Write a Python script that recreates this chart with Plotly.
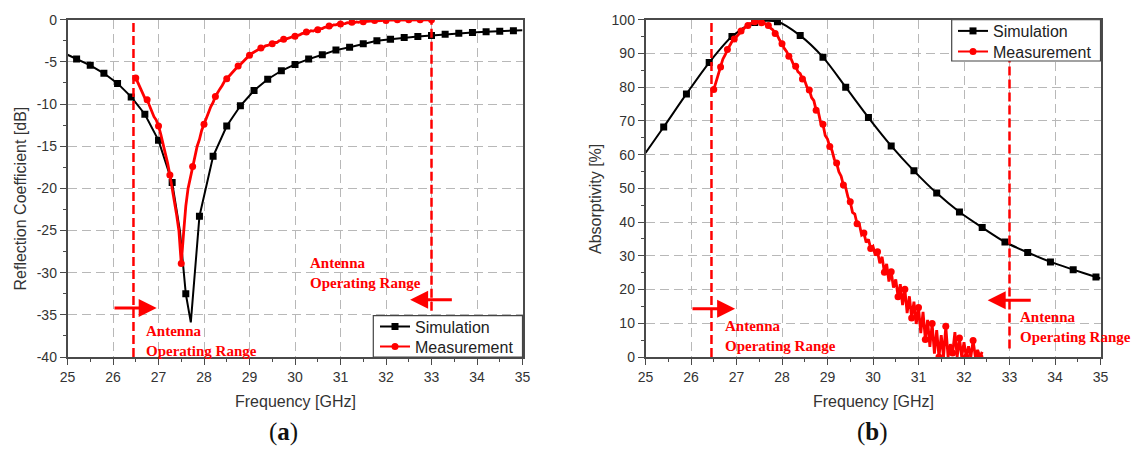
import plotly.graph_objects as go

# ---------------- (a) Reflection coefficient ----------------
sim_a_freq = [25.0, 25.2, 25.5, 25.8, 26.1, 26.4, 26.7, 27.0, 27.3, 27.47, 27.6, 27.71,
              27.9, 28.2, 28.5, 28.8, 29.1, 29.4, 29.7, 30.0, 30.3, 30.6, 30.9, 31.2,
              31.5, 31.8, 32.1, 32.4, 32.7, 33.0, 33.3, 33.6, 33.9, 34.2, 34.5, 34.8, 35.0]
sim_a_db = [-4.15, -4.65, -5.4, -6.35, -7.55, -9.15, -11.2, -14.3, -19.3, -25.0, -32.5, -35.9,
            -23.3, -16.2, -12.6, -10.2, -8.4, -7.05, -6.05, -5.3, -4.67, -4.15, -3.6, -3.25,
            -2.85, -2.5, -2.3, -2.1, -1.98, -1.86, -1.72, -1.6, -1.5, -1.42, -1.37, -1.3, -1.25]

# measured S11, sampled every 0.05 GHz from 26.50 GHz
meas_a_start = 26.5
meas_a_step = 0.05
meas_a_db = [
    -6.9, -7.5, -8.0, -8.7, -9.3, -9.5, -10.2, -10.8, -11.5, -11.9,
    -12.6, -13.6, -14.7, -15.9, -17.0, -18.4, -19.9, -21.5, -23.2, -25.1,
    -28.9, -25.4, -22.1, -20.0, -18.7, -17.4, -16.3, -15.0, -14.2, -13.1,
    -12.4, -11.6, -11.0, -10.3, -9.8, -9.1, -8.6, -8.2, -7.8, -7.3,
    -7.0, -6.7, -6.4, -6.0, -5.8, -5.5, -5.3, -5.0, -4.8, -4.5,
    -4.2, -4.0, -3.85, -3.6, -3.55, -3.35, -3.3, -3.1, -3.05, -2.95,
    -2.85, -2.7, -2.7, -2.5, -2.45, -2.3, -2.3, -2.15, -2.1, -2.0,
    -1.95, -1.85, -1.8, -1.65, -1.6, -1.45, -1.45, -1.3, -1.35, -1.2,
    -1.2, -1.05, -1.05, -0.9, -0.85, -0.75, -0.75, -0.6, -0.6, -0.5,
    -0.5, -0.45, -0.45, -0.35, -0.4, -0.3, -0.35, -0.25, -0.3, -0.2,
    -0.25, -0.15, -0.2, -0.15, -0.15, -0.1, -0.15, -0.1, -0.1, -0.05,
    -0.1, -0.05, -0.05, -0.05, -0.05, 0.0, -0.05, 0.0, 0.0, 0.0,
    0.0, 0.0, 0.0, 0.0, 0.0, 0.0, 0.0, 0.0, 0.0, 0.0, 0.0,
]

# ---------------- (b) Absorptivity ----------------
sim_b_freq = [25.0, 25.4, 25.9, 26.4, 26.9, 27.4, 27.9, 28.4, 28.9, 29.4, 29.9, 30.4,
              30.9, 31.4, 31.9, 32.4, 32.9, 33.4, 33.9, 34.4, 34.9, 35.0]
sim_b_pct = [60.5, 68.2, 78.0, 87.3, 95.0, 99.2, 99.4, 95.3, 88.9, 80.0, 71.0, 62.6,
             55.2, 48.6, 43.0, 38.4, 34.1, 31.0, 28.2, 25.9, 23.7, 23.3]

# measured absorptivity, sampled every 0.05 GHz from 26.50 GHz
meas_b_start = 26.5
meas_b_step = 0.05
meas_b_pct = [
    79.3, 81.6, 84.0, 86.0, 88.3, 89.6, 91.2, 92.3, 93.5, 94.3,
    95.1, 95.8, 96.7, 97.2, 97.9, 98.3, 98.9, 99.0, 99.4, 99.3,
    99.5, 99.1, 99.2, 98.6, 98.3, 97.5, 97.0, 95.9, 95.3, 93.9,
    92.9, 91.5, 90.6, 89.2, 88.4, 86.8, 86.2, 84.6, 84.0, 82.4,
    81.9, 80.0, 79.2, 76.9, 76.0, 73.2, 72.6, 69.5, 69.0, 65.7,
    64.6, 62.4, 61.2, 58.6, 57.5, 54.9, 53.6, 51.0, 50.2, 47.4,
    46.0, 42.9, 42.4, 39.5, 39.4, 36.2, 36.8, 34.0, 34.9, 32.2,
    32.8, 30.1, 31.2, 27.8, 29.7, 25.1, 27.6, 22.4, 25.3, 20.6,
    23.0, 17.9, 21.6, 15.4, 20.1, 13.0, 18.0, 11.6, 16.4, 9.8,
    14.7, 7.1, 13.4, 5.2, 11.0, 3.0, 9.9, 1.0, 8.0, 0.0,
    6.5, 0.0, 9.1, 0.0, 3.8, 1.2, 7.4, 0.0, 5.6, 0.0,
    4.4, 0.0, 3.2, 0.0, 4.9, 0.0, 2.1, 0.0, 1.5,
]

x_ticks = list(range(25, 36))
y_ticks_a = list(range(-40, 1, 5))
y_ticks_b = list(range(0, 101, 10))
band_edges = [26.45, 33.0]

meas_a_freq = [round(meas_a_start + meas_a_step * i, 3) for i in range(len(meas_a_db))]
meas_b_freq = [round(meas_b_start + meas_b_step * i, 3) for i in range(len(meas_b_pct))]

RED = "#ff0000"
BLACK = "#000000"
AX = "#4a4a4a"
TXT = "#333333"
SANS = "Liberation Sans, Arial, sans-serif"
SERIF = "Liberation Serif, Times New Roman, serif"

W, H = 1136, 450


def px_x(p):
    return p / W


def px_y(p):
    return 1 - p / H


def on_grid(f, start, step):
    k = (f - start) / step
    return abs(k - round(k)) < 1e-6 and k >= -1e-6


fig = go.Figure()

# --- panel (a) traces
fig.add_trace(go.Scatter(x=sim_a_freq, y=sim_a_db, mode="lines",
                         line=dict(color=BLACK, width=2), showlegend=False,
                         xaxis="x", yaxis="y"))
sa = [(f, v) for f, v in zip(sim_a_freq, sim_a_db) if on_grid(f, 25.2, 0.3)]
fig.add_trace(go.Scatter(x=[p[0] for p in sa], y=[p[1] for p in sa], mode="markers",
                         marker=dict(symbol="square", size=7, color=BLACK),
                         showlegend=False, xaxis="x", yaxis="y"))
fig.add_trace(go.Scatter(x=meas_a_freq, y=meas_a_db, mode="lines",
                         line=dict(color=RED, width=2.8), showlegend=False,
                         xaxis="x", yaxis="y"))
fig.add_trace(go.Scatter(x=meas_a_freq[::5], y=meas_a_db[::5], mode="markers",
                         marker=dict(symbol="circle", size=7, color=RED),
                         showlegend=False, xaxis="x", yaxis="y"))

# --- panel (b) traces
fig.add_trace(go.Scatter(x=sim_b_freq, y=sim_b_pct, mode="lines",
                         line=dict(color=BLACK, width=2, shape="spline", smoothing=0.8),
                         showlegend=False, xaxis="x2", yaxis="y2"))
fig.add_trace(go.Scatter(x=sim_b_freq[1:-1], y=sim_b_pct[1:-1], mode="markers",
                         marker=dict(symbol="square", size=7, color=BLACK),
                         showlegend=False, xaxis="x2", yaxis="y2"))
fig.add_trace(go.Scatter(x=meas_b_freq, y=meas_b_pct, mode="lines",
                         line=dict(color=RED, width=2.8), showlegend=False,
                         xaxis="x2", yaxis="y2"))
fig.add_trace(go.Scatter(x=meas_b_freq[::3], y=meas_b_pct[::3], mode="markers",
                         marker=dict(symbol="circle", size=7, color=RED),
                         showlegend=False, xaxis="x2", yaxis="y2"))

# --- legend entries: one single-item legend per row, inside a drawn frame
legend_rows = [("legend", "Simulation", BLACK, "square", 380, 326.7, "x", "y"),
               ("legend2", "Measurement", RED, "circle", 380, 346.7, "x", "y"),
               ("legend3", "Simulation", BLACK, "square", 958, 31.0, "x2", "y2"),
               ("legend4", "Measurement", RED, "circle", 958, 51.7, "x2", "y2")]
legend_layout = {}
for lg, name, col, sym, lx, ly, xa, ya in legend_rows:
    fig.add_trace(go.Scatter(x=[None], y=[None], mode="lines+markers", name=name,
                             line=dict(color=col, width=2),
                             marker=dict(symbol=sym, size=7, color=col),
                             legend=lg, xaxis=xa, yaxis=ya))
    legend_layout[lg] = dict(x=px_x(lx - 5), y=px_y(ly), xanchor="left", yanchor="middle",
                             bgcolor="rgba(0,0,0,0)", borderwidth=0,
                             font=dict(family=SANS, size=16, color="#222"))


def xaxis_style(domain, anchor):
    return dict(domain=domain, anchor=anchor, range=[25, 35], tickvals=x_ticks,
                automargin=False,
                ticks="outside", ticklen=6, tickwidth=1.3, tickcolor=AX,
                showline=True, linecolor=AX, linewidth=1.5, mirror=True,
                showgrid=True, gridcolor="#b8b8b8", gridwidth=1.2, griddash="9px,5px",
                zeroline=False, tickfont=dict(family=SANS, size=14, color=TXT),
                minor=dict(dtick=0.5, tick0=25, ticks="outside", ticklen=3,
                           tickcolor=AX, tickwidth=1.2, showgrid=False))


def yaxis_style(domain, anchor, rng, ticks, dt):
    return dict(domain=domain, anchor=anchor, range=rng,
                tickvals=ticks, ticktext=[str(t) for t in ticks],
                automargin=False,
                ticks="outside", ticklen=6, tickwidth=1.3, tickcolor=AX,
                showline=True, linecolor=AX, linewidth=1.5, mirror=True,
                showgrid=True, gridcolor="#b8b8b8", gridwidth=1.2, griddash="9px,5px",
                zeroline=False, tickfont=dict(family=SANS, size=14, color=TXT),
                minor=dict(dtick=dt / 2, tick0=0, ticks="outside", ticklen=3,
                           tickcolor=AX, tickwidth=1.2, showgrid=False))


ydom = [px_y(357), px_y(19.75)]
fig.update_layout(
    width=W, height=H,
    margin=dict(l=0, r=0, t=0, b=0, autoexpand=False),
    paper_bgcolor="white", plot_bgcolor="white",
    xaxis=xaxis_style([px_x(67.5), px_x(522.5)], "y"),
    yaxis=yaxis_style(ydom, "x", [-40, 0], y_ticks_a, 5),
    xaxis2=xaxis_style([px_x(645.5), px_x(1100.5)], "y2"),
    yaxis2=yaxis_style(ydom, "x2", [0, 100], y_ticks_b, 10),
    **legend_layout,
)

# operating-range markers, then the legend frames on top of them
shapes = []
for xa, ya, spans in [("x", "y", [(-40, 0), (-34.5, 0)]), ("x2", "y2", [(0, 100), (2.5, 100)])]:
    for f, (y0, y1) in zip(band_edges, spans):
        shapes.append(dict(type="line", xref=xa, yref=ya, x0=f, x1=f, y0=y0, y1=y1,
                           line=dict(color=RED, width=2.5, dash="9px,4px")))
for x0, x1, y0, y1 in [(373.3, 522.5, 315.7, 357.0), (951.7, 1100.5, 19.75, 61.0)]:
    shapes.append(dict(type="rect", xref="paper", yref="paper",
                       x0=px_x(x0), x1=px_x(x1), y0=px_y(y1), y1=px_y(y0),
                       fillcolor="white", line=dict(color="#444", width=1.2)))
fig.update_layout(shapes=shapes)

ann = []
label = "Antenna<br>Operating Range"
lab_font = dict(family=SERIF, size=15, color=RED)
# arrows (tail -> head)
for xa, ya, tail, head in [
    ("x", "y", (26.0, -34.2), (26.96, -34.2)),
    ("x", "y", (33.48, -33.2), (32.53, -33.2)),
    ("x2", "y2", (26.0, 14.3), (26.97, 14.3)),
    ("x2", "y2", (33.5, 16.8), (32.52, 16.8)),
]:
    ann.append(dict(xref=xa, yref=ya, axref=xa, ayref=ya, x=head[0], y=head[1],
                    ax=tail[0], ay=tail[1], text="", showarrow=True,
                    arrowhead=2, arrowsize=1.2, arrowwidth=3, arrowcolor=RED))
for xa, ya, x, y in [("x", "y", 26.68, -38.1), ("x", "y", 30.29, -30.07),
                     ("x2", "y2", 26.71, 6.2), ("x2", "y2", 33.18, 8.8)]:
    ann.append(dict(xref=xa, yref=ya, x=x, y=y, text="<b>" + label + "</b>",
                    showarrow=False, xanchor="left", yanchor="middle", align="left",
                    font=lab_font))

# axis titles and panel captions
title_font = dict(family=SANS, size=16, color=TXT)
cap_font = dict(family=SERIF, size=25, color="#111")
for x, y, text, angle, font in [
    (19.5, 199, "Reflection Coefficient [dB]", -90, title_font),
    (595, 199, "Absorptivity [%]", -90, title_font),
    (295, 401.7, "Frequency [GHz]", 0, title_font),
    (873, 401.7, "Frequency [GHz]", 0, title_font),
    (283, 432, "(<b>a</b>)", 0, cap_font),
    (872, 432, "(<b>b</b>)", 0, cap_font),
]:
    ann.append(dict(xref="paper", yref="paper", x=px_x(x), y=px_y(y), text=text,
                    textangle=angle, showarrow=False, xanchor="center", yanchor="middle",
                    font=font))
fig.update_layout(annotations=ann)

# page body has no default margin so the figure sits at the window origin
fig.write_html("out.html",
               post_script="document.body.style.margin='0';document.body.style.overflow='hidden';")
